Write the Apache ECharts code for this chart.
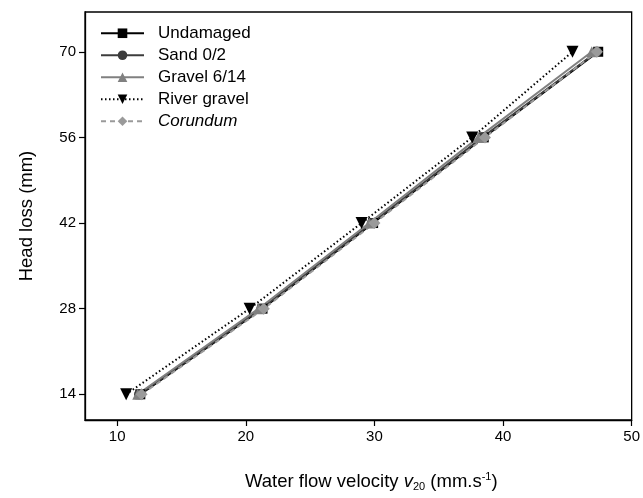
<!DOCTYPE html>
<html>
<head>
<meta charset="utf-8">
<script src="https://cdn.jsdelivr.net/npm/echarts@6/dist/echarts.min.js"></script>
<style>html,body{margin:0;padding:0;background:#fff}#c{width:643px;height:498px}</style>
</head>
<body>
<div id="c"></div>
<script>
const headLoss = [14, 28, 42, 56, 70];
const undamaged = [11.8, 21.3, 29.9, 38.5, 47.4];
const sand = [11.7, 21.2, 29.8, 38.4, 47.3];
const gravel = [11.6, 21.0, 29.6, 38.1, 46.9];
const riverGravel = [10.7, 20.3, 29.0, 37.6, 45.4];
const corundum = [11.9, 21.4, 30.0, 38.6, 47.3];
const xTicks = [10, 20, 30, 40, 50];
const yTicks = [14, 28, 42, 56, 70];

const font = 'Liberation Sans, Arial, sans-serif';
function pts(xs){ return xs.map((x,i)=>[x, headLoss[i]]); }
function ser(name, xs, color, symbol, dash, size, rotate){
  return {name, type:'line', data:pts(xs), symbol, symbolSize:size, symbolRotate:rotate||0,
    lineStyle:{color, width:2, type:dash}, itemStyle:{color}, z: 3};
}
const chart = echarts.init(document.getElementById('c'), null, {renderer:'canvas'});
chart.setOption({
  animation:false,
  grid:{left:85, top:12, right:10, bottom:78, show:true, borderColor:'#000', borderWidth:1.3},
  legend:{
    left:95, top:19, orient:'vertical', itemGap:3.5, itemWidth:43, itemHeight:12,
    textStyle:{fontFamily:font, fontSize:17, color:'#000', padding:[0,0,0,9], lineHeight:18.5,
      rich:{i:{fontStyle:'italic', fontFamily:font, fontSize:17, color:'#000'}}},
    formatter: n => n==='Corundum' ? '{i|Corundum}' : n,
    data:['Undamaged','Sand 0/2','Gravel 6/14','River gravel','Corundum']
  },
  xAxis:{type:'value', min:7.5, max:50,
    axisLine:{onZero:false, lineStyle:{color:'#000', width:1.3}},
    axisTick:{show:true, length:6, inside:false, lineStyle:{color:'#000', width:1.2}, customValues: xTicks},
    axisLabel:{fontFamily:font, fontSize:15, color:'#000', margin:9, customValues: xTicks},
    splitLine:{show:false},
    name:'{n|Water flow velocity }{v|v}{s|20}{n| (mm.s}{p|-1}{n|)}',
    nameLocation:'middle', nameGap:51,
    nameTextStyle:{padding:[0,0,0,26], rich:{
      n:{fontFamily:font, fontSize:18.5, color:'#000'},
      v:{fontFamily:font, fontSize:18.5, color:'#000', fontStyle:'italic'},
      s:{fontFamily:font, fontSize:11, color:'#000', verticalAlign:'bottom', padding:[10,0,0,0]},
      p:{fontFamily:font, fontSize:11, color:'#000', verticalAlign:'top', padding:[0,0,10,0]}
    }}
  },
  yAxis:{type:'value', min:9.8, max:76.5,
    axisLine:{onZero:false, lineStyle:{color:'#000', width:1.3}},
    axisTick:{show:true, length:6, inside:false, lineStyle:{color:'#000', width:1.2}, customValues: yTicks},
    axisLabel:{fontFamily:font, fontSize:15, color:'#000', margin:9, customValues: yTicks},
    splitLine:{show:false},
    name:'Head loss (mm)', nameLocation:'middle', nameGap:49,
    nameTextStyle:{fontFamily:font, fontSize:18.5, color:'#000'}
  },
  series:[
    ser('Undamaged', undamaged, '#000000', 'rect', 'solid', 10),
    ser('Sand 0/2', sand, '#3c3c3c', 'circle', 'solid', 10),
    ser('Gravel 6/14', gravel, '#808080', 'triangle', 'solid', 11),
    ser('River gravel', riverGravel, '#000000', 'triangle', [1.5,2.5], 12, 180),
    ser('Corundum', corundum, '#9a9a9a', 'diamond', [5,4], 12)
  ]
});
</script>
</body>
</html>
